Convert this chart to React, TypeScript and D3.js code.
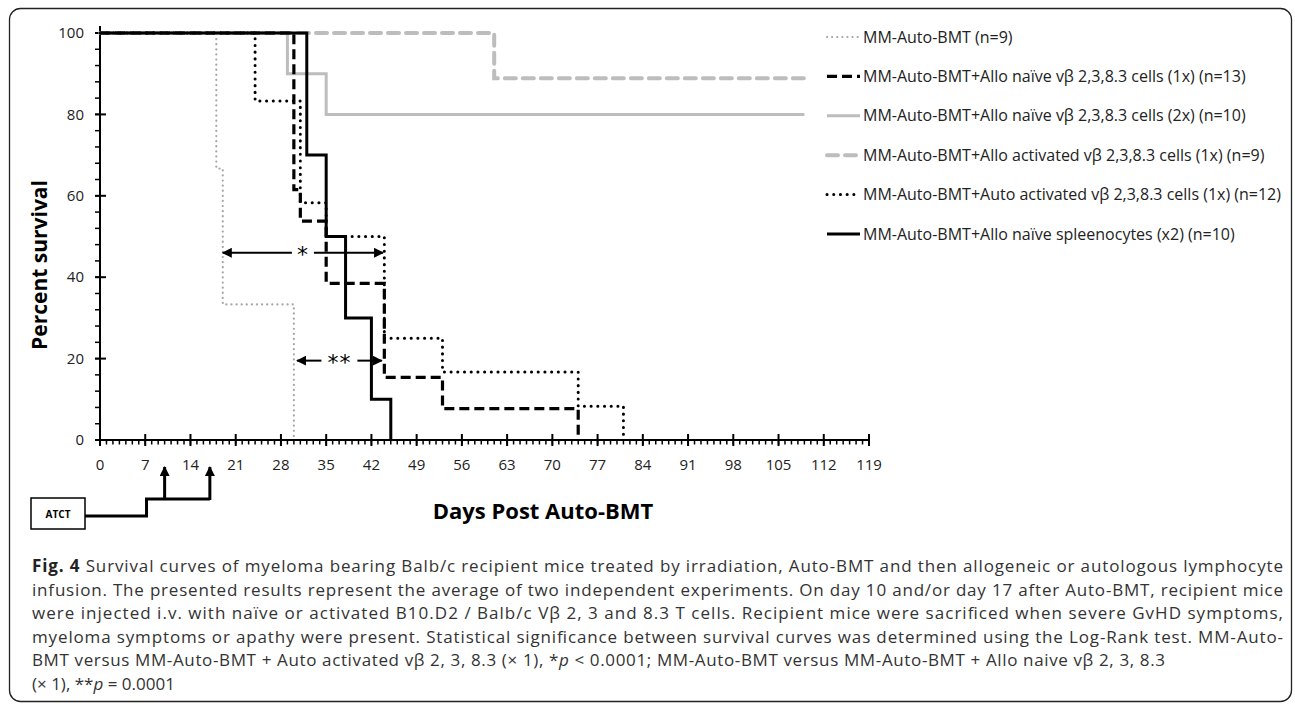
import React, { useEffect, useRef } from 'react';
import * as d3 from 'd3';

// survival steps: [day, percent]
const mmAuto = [[0, 100], [18, 66.7], [19, 33.3], [30, 0]];
const alloNaive1x = [[0, 100], [30, 61.5], [31, 53.8], [35, 38.5], [44, 15.4], [53, 7.7], [74, 0]];
const alloNaive2x = [[0, 100], [29, 90], [35, 80], [109, 80]];
const alloActivated1x = [[0, 100], [61, 88.9], [109, 88.9]];
const autoActivated1x = [[0, 100], [24, 83.3], [31, 58.3], [35, 50], [44, 25], [53, 16.7], [74, 8.3], [81, 0]];
const spleenocytes = [[0, 100], [32, 70], [35, 50], [38, 30], [42, 10], [45, 0]];

const legendLabels = [
    'MM-Auto-BMT (n=9)',
    'MM-Auto-BMT+Allo naïve vβ 2,3,8.3 cells (1x) (n=13)',
    'MM-Auto-BMT+Allo naïve vβ 2,3,8.3 cells (2x) (n=10)',
    'MM-Auto-BMT+Allo activated vβ 2,3,8.3 cells (1x) (n=9)',
    'MM-Auto-BMT+Auto activated vβ 2,3,8.3 cells (1x) (n=12)',
    'MM-Auto-BMT+Allo naïve spleenocytes (x2) (n=10)',
];

const xTicks = d3.range(0, 120, 7);
const yTicks = [0, 20, 40, 60, 80, 100];
const injectionDays = [10, 17];

// significance arrows: [fromDay, toDay, percent, label]
const sigArrows = [
    [19, 43.8, 46, '*'],
    [30.5, 43.6, 19.5, '**'],
];

const captionLines = [
    'Survival curves of myeloma bearing Balb/c recipient mice treated by irradiation, Auto-BMT and then allogeneic or autologous lymphocyte',
    'infusion. The presented results represent the average of two independent experiments. On day 10 and/or day 17 after Auto-BMT, recipient mice',
    'were injected i.v. with naïve or activated B10.D2 / Balb/c Vβ 2, 3 and 8.3 T cells. Recipient mice were sacrificed when severe GvHD symptoms,',
    'myeloma symptoms or apathy were present. Statistical significance between survival curves was determined using the Log-Rank test. MM-Auto-',
];

const App = () => {
    const ref = useRef(null);
    const width = 1295;
    const height = 708;

    useEffect(() => {
        const svg = d3.select(ref.current);
        svg.selectAll('*').remove();

        const x = d3.scaleLinear().domain([0, 119]).range([100, 869]);
        const y = d3.scaleLinear().domain([0, 100]).range([440, 33]);
        const tickFont = '"Open Sans", sans-serif';

        // frame
        svg.append('rect')
            .attr('x', 9.5).attr('y', 8.5)
            .attr('width', 1282).attr('height', 693)
            .attr('rx', 11)
            .attr('fill', 'white')
            .attr('stroke', '#222')
            .attr('stroke-width', 1.3);

        const defs = svg.append('defs');
        defs.append('marker')
            .attr('id', 'ah')
            .attr('viewBox', '0 0 10 10')
            .attr('refX', 9).attr('refY', 5)
            .attr('markerWidth', 10).attr('markerHeight', 10)
            .attr('markerUnits', 'userSpaceOnUse')
            .attr('orient', 'auto-start-reverse')
            .append('path')
            .attr('d', 'M0,0 L10,5 L0,10 Z')
            .attr('fill', '#000');

        // axes
        const ax = svg.append('g').attr('stroke', '#000').attr('stroke-width', 2);
        ax.append('line').attr('x1', 100).attr('x2', 100).attr('y1', 26).attr('y2', 440);
        ax.append('line').attr('x1', 95).attr('x2', 869).attr('y1', 440).attr('y2', 440);
        ax.selectAll('.ymin')
            .data(d3.range(0, 101, 4))
            .enter()
            .append('line')
            .attr('x1', 95).attr('x2', 100)
            .attr('y1', d => y(d)).attr('y2', d => y(d))
            .attr('stroke-width', 1.5);
        ax.selectAll('.ymaj')
            .data(yTicks)
            .enter()
            .append('line')
            .attr('x1', 95).attr('x2', 106)
            .attr('y1', d => y(d)).attr('y2', d => y(d));
        ax.selectAll('.xmin')
            .data(d3.range(0, 120, 1))
            .enter()
            .append('line')
            .attr('x1', d => x(d)).attr('x2', d => x(d))
            .attr('y1', 440).attr('y2', 444.5)
            .attr('stroke-width', 1.5);
        ax.selectAll('.xmaj')
            .data(xTicks)
            .enter()
            .append('line')
            .attr('x1', d => x(d)).attr('x2', d => x(d))
            .attr('y1', 434).attr('y2', 446);

        svg.append('g')
            .style('font', `15px ${tickFont}`)
            .attr('text-anchor', 'end')
            .selectAll('text')
            .data(yTicks)
            .enter()
            .append('text')
            .attr('x', 84)
            .attr('y', d => y(d))
            .attr('dy', '0.35em')
            .attr('fill', '#222')
            .text(d => d);
        svg.append('g')
            .style('font', `15px ${tickFont}`)
            .attr('text-anchor', 'middle')
            .selectAll('text')
            .data(xTicks)
            .enter()
            .append('text')
            .attr('x', d => x(d))
            .attr('y', 465)
            .attr('dy', '0.35em')
            .attr('fill', '#222')
            .text(d => d);

        svg.append('text')
            .attr('transform', 'translate(40,265) rotate(-90)')
            .attr('text-anchor', 'middle')
            .attr('dy', '0.35em')
            .style('font', `bold 21px ${tickFont}`)
            .text('Percent survival');
        svg.append('text')
            .attr('x', 543).attr('y', 511)
            .attr('text-anchor', 'middle')
            .attr('dy', '0.35em')
            .style('font', `bold 22px ${tickFont}`)
            .text('Days Post Auto-BMT');

        // curves
        const line = d3.line().x(d => x(d[0])).y(d => y(d[1])).curve(d3.curveStepAfter);
        const styles = [
            { data: mmAuto, stroke: '#a6a6a6', w: 2.2, dash: '0.1 5', cap: 'round' },
            { data: alloNaive1x, stroke: '#000', w: 3.2, dash: '10 5', cap: 'butt' },
            { data: alloNaive2x, stroke: '#bdbdbd', w: 3, dash: null, cap: 'butt' },
            { data: alloActivated1x, stroke: '#bdbdbd', w: 4, dash: '11 7', cap: 'round' },
            { data: autoActivated1x, stroke: '#000', w: 3, dash: '0.1 6.6', cap: 'round' },
            { data: spleenocytes, stroke: '#000', w: 3, dash: null, cap: 'butt' },
        ];
        const drawOrder = [0, 2, 3, 1, 4, 5];
        svg.append('g')
            .attr('fill', 'none')
            .selectAll('path')
            .data(drawOrder.map(i => styles[i]))
            .enter()
            .append('path')
            .attr('d', d => line(d.data))
            .attr('stroke', d => d.stroke)
            .attr('stroke-width', d => d.w)
            .attr('stroke-dasharray', d => d.dash)
            .attr('stroke-linecap', d => d.cap);

        // significance arrows
        sigArrows.forEach(([a, b, p, lab]) => {
            const mid = (x(a) + x(b)) / 2;
            const half = lab.length * 7 + 4;
            const g = svg.append('g').attr('stroke', '#000').attr('stroke-width', 2);
            g.append('line')
                .attr('x1', mid - half).attr('x2', x(a))
                .attr('y1', y(p)).attr('y2', y(p))
                .attr('marker-end', 'url(#ah)');
            g.append('line')
                .attr('x1', mid + half).attr('x2', x(b))
                .attr('y1', y(p)).attr('y2', y(p))
                .attr('marker-end', 'url(#ah)');
            svg.append('text')
                .attr('x', mid).attr('y', y(p) + 9)
                .attr('text-anchor', 'middle')
                .style('font', `22px "DejaVu Sans", sans-serif`)
                .style('letter-spacing', '1px')
                .text(lab);
        });

        // legend
        const lg = svg.append('g');
        legendLabels.forEach((lab, i) => {
            const ly = 37 + i * 39.4;
            const s = styles[i];
            lg.append('line')
                .attr('x1', 827).attr('x2', 860)
                .attr('y1', ly).attr('y2', ly)
                .attr('stroke', s.stroke)
                .attr('stroke-width', s.w)
                .attr('stroke-dasharray', s.dash)
                .attr('stroke-linecap', s.cap);
            lg.append('text')
                .attr('x', 863).attr('y', ly)
                .attr('dy', '0.35em')
                .style('font', `16px ${tickFont}`)
                .attr('fill', '#222')
                .text(lab);
        });

        // ATCT schedule
        svg.append('rect')
            .attr('x', 31).attr('y', 498)
            .attr('width', 54).attr('height', 31)
            .attr('fill', 'white')
            .attr('stroke', '#000')
            .attr('stroke-width', 1.5);
        svg.append('text')
            .attr('x', 58).attr('y', 514)
            .attr('dy', '0.35em')
            .attr('text-anchor', 'middle')
            .style('font', `bold 10px ${tickFont}`)
            .text('ATCT');
        const stepX = x(7.2);
        svg.append('path')
            .attr('d', `M85,516 H${stepX} V499 H${x(injectionDays[1])}`)
            .attr('fill', 'none')
            .attr('stroke', '#000')
            .attr('stroke-width', 3);
        svg.append('g')
            .selectAll('line')
            .data(injectionDays)
            .enter()
            .append('line')
            .attr('x1', d => x(d)).attr('x2', d => x(d))
            .attr('y1', 500).attr('y2', 467)
            .attr('stroke', '#000')
            .attr('stroke-width', 3)
            .attr('marker-end', 'url(#ah)');

        // caption
        const cap = svg.append('g')
            .style('font', `17px "Open Sans", sans-serif`)
            .attr('fill', '#333');
        const lh = 23.6;
        const cy = 566;
        const t0 = cap.append('text').attr('x', 32).attr('y', cy).attr('dy', '0.35em');
        t0.append('tspan').style('font-weight', 'bold').attr('fill', '#222').text('Fig. 4');
        t0.append('tspan').text(' ' + captionLines[0]);
        t0.attr('textLength', 1251).attr('lengthAdjust', 'spacing');
        captionLines.slice(1).forEach((l, i) => {
            cap.append('text')
                .attr('x', 32).attr('y', cy + (i + 1) * lh)
                .attr('dy', '0.35em')
                .attr('textLength', 1251)
                .attr('lengthAdjust', 'spacing')
                .text(l);
        });
        const t5 = cap.append('text').attr('x', 32).attr('y', cy + 4 * lh).attr('dy', '0.35em')
            .attr('textLength', 1133).attr('lengthAdjust', 'spacing');
        t5.append('tspan').text('BMT versus MM-Auto-BMT + Auto activated vβ 2, 3, 8.3 (× 1), *');
        t5.append('tspan').style('font-style', 'italic').text('p');
        t5.append('tspan').text(' < 0.0001; MM-Auto-BMT versus MM-Auto-BMT + Allo naive vβ 2, 3, 8.3');
        const t6 = cap.append('text').attr('x', 32).attr('y', cy + 5 * lh).attr('dy', '0.35em');
        t6.append('tspan').text('(× 1), **');
        t6.append('tspan').style('font-style', 'italic').text('p');
        t6.append('tspan').text(' = 0.0001');
    }, []);

    return (
        <svg
            ref={ref}
            width={width}
            height={height}
            style={{ position: 'absolute', left: 0, top: 0, background: 'white' }}
        />
    );
};

export default App;
